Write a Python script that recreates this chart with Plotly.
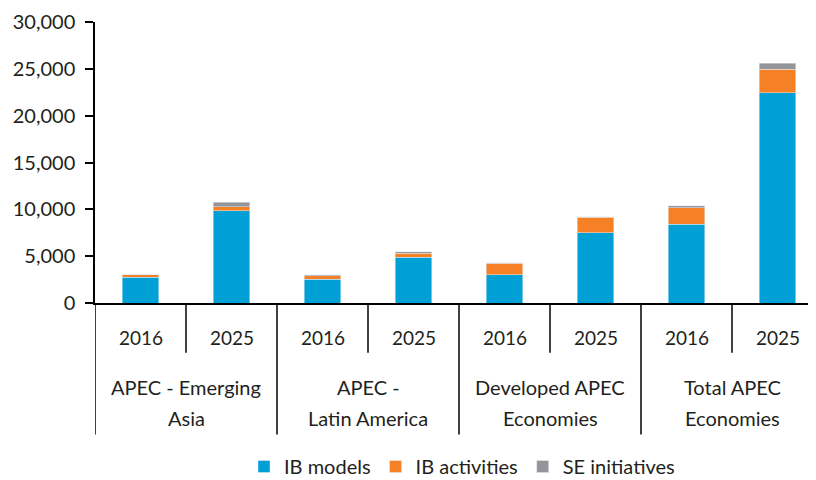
import plotly.graph_objects as go

groups = ["APEC - Emerging Asia", "APEC - Latin America", "Developed APEC Economies", "Total APEC Economies"]
group_lines = [["APEC - Emerging", "Asia"], ["APEC -", "Latin America"],
               ["Developed APEC", "Economies"], ["Total APEC", "Economies"]]
years = ["2016", "2025"]

ib_models = [2730, 9870, 2520, 4900, 2990, 7500, 8420, 22450]
ib_activities = [290, 430, 390, 430, 1240, 1630, 1770, 2530]
se_initiatives = [20, 470, 110, 140, 70, 75, 180, 610]

FONT = "Lato"
TXT = "#231f20"

# pixel layout helpers (page body has an 8px margin, compensate)
OFF = 8
W, H = 816 - OFF, 480 - OFF
PL, PR = 95 - OFF, 816 - OFF
PT, PB = 22 - OFF, 303.3 - OFF
slot = 91.0
x0 = -0.5
x1 = x0 + (PR - PL) / slot


def py(pix):
    return (PB - (pix - OFF)) / (PB - PT)


def px(pix):
    return ((pix - OFF) - PL) / (PR - PL)


n = len(ib_models)
xs = list(range(n))

fig = go.Figure()
fig.add_bar(x=xs, y=ib_models, name="IB models", marker_color="#009fd6", width=0.4)
fig.add_bar(x=xs, y=ib_activities, name="IB activities", marker_color="#f58025", width=0.4)
fig.add_bar(x=xs, y=se_initiatives, name="SE initiatives", marker_color="#939598", width=0.4)

shapes = []
annotations = []
for i in range(n):
    annotations.append(dict(x=i, y=py(338), xref="x", yref="paper", text=years[i % 2],
                            showarrow=False, font=dict(family=FONT, size=19, color=TXT),
                            xanchor="center", yanchor="middle"))
for g in range(len(groups)):
    left = 2 * g - 0.5
    shapes.append(dict(type="line", xref="x", yref="paper", x0=left, x1=left,
                       y0=py(303.3), y1=py(435), line=dict(color="black", width=1.5)))
    mid = 2 * g + 0.5
    shapes.append(dict(type="line", xref="x", yref="paper", x0=mid, x1=mid,
                       y0=py(303.3), y1=py(353), line=dict(color="black", width=1.5)))
    for k, line in enumerate(group_lines[g]):
        annotations.append(dict(x=mid, y=py(387 + 31 * k), xref="x", yref="paper", text=line,
                                showarrow=False, font=dict(family=FONT, size=20, color=TXT),
                                xanchor="center", yanchor="middle"))

fig.update_layout(
    barmode="stack",
    width=W, height=H,
    margin=dict(l=PL, r=W - PR, t=PT, b=H - PB, autoexpand=False),
    plot_bgcolor="white", paper_bgcolor="white",
    font=dict(family=FONT, size=19, color=TXT),
    showlegend=True,
    legend=dict(orientation="h", x=px(462), xanchor="center",
                y=py(467), yanchor="middle", font=dict(family=FONT, size=20, color=TXT),
                itemwidth=30, traceorder="normal", tracegroupgap=0),
    xaxis=dict(range=[x0, x1], showticklabels=False, ticks="", showgrid=False, automargin=False,
               showline=True, linecolor="black", linewidth=1.5, zeroline=False, fixedrange=True),
    yaxis=dict(range=[0, 30000], tickvals=[0, 5000, 10000, 15000, 20000, 25000, 30000],
               tickformat=",", ticks="outside", ticklen=8, tickcolor="black", tickwidth=1.5,
               showline=True, linecolor="black", linewidth=1.5, showgrid=False, zeroline=False,
               automargin=False, ticklabelstandoff=6,
               tickfont=dict(family=FONT, size=20, color=TXT)),
    shapes=shapes,
    annotations=annotations,
)

fig.write_html("out.html")
